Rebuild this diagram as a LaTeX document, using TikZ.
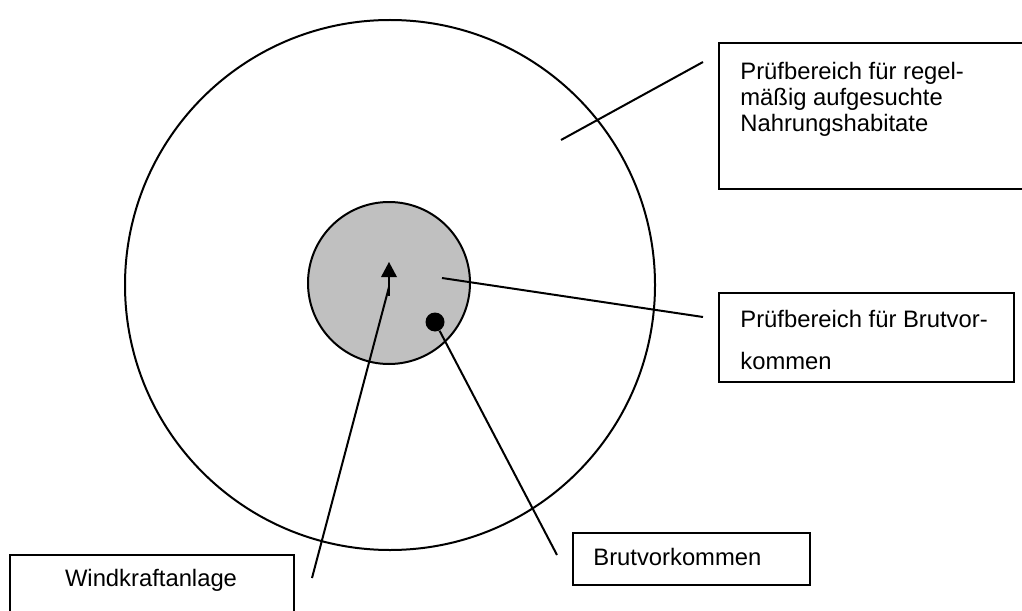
\documentclass[tikz,border=0pt]{standalone}
\usepackage{fontspec}
\setmainfont{Liberation Sans}
\definecolor{brutgray}{HTML}{C0C0C0}
\tikzset{
	box/.style={draw, line width=1pt, anchor=north west, inner sep=0pt},
	txt/.style={font=\fontsize{11.9}{13}\selectfont, inner sep=0pt},
	ring/.style={circle, draw, line width=1pt, inner sep=0pt},
	lead/.style={line width=1pt}
}

\begin{document}
\begin{tikzpicture}[x=0.5pt,y=-0.5pt]
	\useasboundingbox (0,0) rectangle (1022,610);
	% circles
	\node[ring, minimum size=265pt] (habitat) at (390,285) {};
	\node[ring, fill=brutgray, minimum size=81pt] (brutber) at (389,283) {};
	% nest and turbine
	\node[circle, fill=black, inner sep=0pt, minimum size=9.5pt] (nest) at (435,322) {};
	\fill (381,277) -- (389,262) -- (397,277) -- cycle;
	\draw[line width=1.2pt] (389,276) -- (389,296);
	\coordinate (wka) at (389,287);
	% boxes
	\node[box, minimum width=156pt, minimum height=73pt] (habbox) at (718,42) {};
	\node[box, minimum width=147.5pt, minimum height=44.5pt] (brutbox) at (718,292) {};
	\node[box, minimum width=142pt, minimum height=33pt] (wkabox) at (9,554) {};
	\node[box, minimum width=118.5pt, minimum height=26pt] (nestbox) at (572,532) {};
	% texts
	\node[txt, anchor=north west, align=left] (habtext) at (740,62)
		{Prüfbereich für regel-\\mäßig aufgesuchte\\Nahrungshabitate};
	\node[txt, font=\fontsize{11.9}{20.85}\selectfont, anchor=north west, align=left] (bruttext) at (740,310)
		{Prüfbereich für Brutvor-\\kommen};
	\node[txt, anchor=base] (wkatext) at (151,586.7) {Windkraftanlage};
	\node[txt, anchor=base west] (nesttext) at (593,565) {Brutvorkommen};
	% leader lines
	\coordinate (hab1) at (561,140);
	\coordinate (hab2) at (703,62);
	\coordinate (brut1) at (442,278);
	\coordinate (brut2) at (703,317);
	\coordinate (nest2) at (557,555);
	\coordinate (wka2) at (312,578);
	\draw[lead] (hab1) -- (hab2);
	\draw[lead] (brut1) -- (brut2);
	\draw[lead] (nest) -- (nest2);
	\draw[lead] (wka2) -- (wka);
\end{tikzpicture}
\end{document}
